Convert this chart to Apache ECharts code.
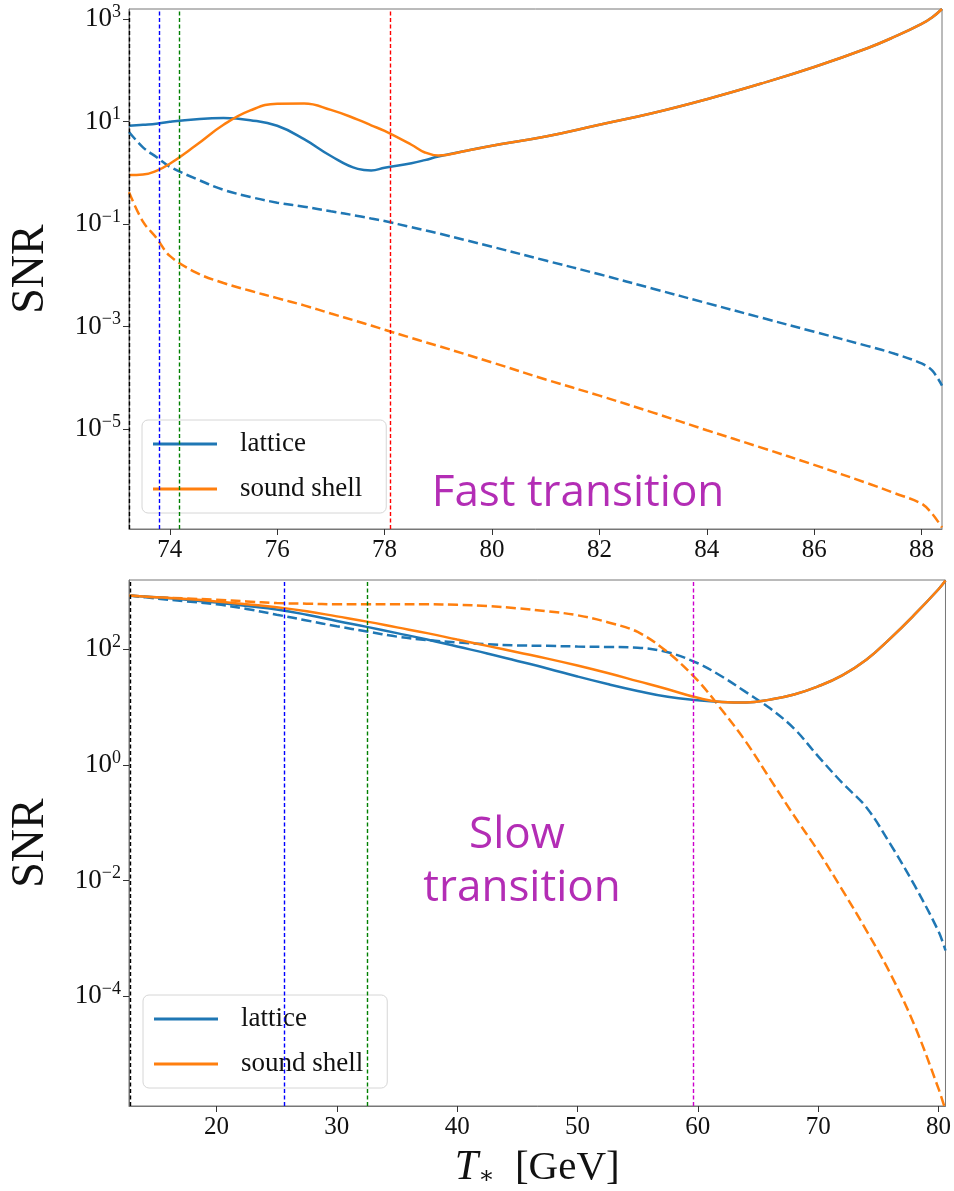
<!DOCTYPE html>
<html><head><meta charset="utf-8">
<script src="https://cdn.jsdelivr.net/npm/echarts@6/dist/echarts.min.js"></script>
<style>html,body{margin:0;padding:0;background:#fff}#c{width:954px;height:1191px}</style>
</head><body><div id="c"></div>
<script>
// ---------- Fast transition (top panel) ----------
const fastT = [73.24, 73.5, 73.75, 74, 74.5, 75, 75.5, 76, 76.5, 77, 77.5, 77.75, 78, 78.5, 78.75, 79, 79.5, 80, 81, 82, 83, 84, 85, 86, 87, 87.5, 88, 88.2, 88.38];
const fastLattice = [8.32, 8.71, 9.12, 10.0, 11.2, 11.75, 10.7, 8.32, 4.57, 2.14, 1.20, 1.12, 1.26, 1.55, 1.78, 2.09, 2.69, 3.39, 5.13, 8.71, 14.8, 27.5, 55.0, 117, 275, 457, 813, 1096, 1585];
const fastSoundShell = [0.912, 0.933, 1.10, 1.51, 3.55, 8.71, 16.6, 22.4, 22.6, 17.0, 11.0, 8.51, 6.61, 3.55, 2.51, 2.19, 2.69, 3.39, 5.13, 8.71, 14.8, 27.5, 55.0, 117, 275, 457, 813, 1096, 1585];
const fastLatticeDashed = [6.31, 3.16, 2.04, 1.32, 0.759, 0.468, 0.339, 0.263, 0.219, 0.178, 0.145, 0.129, 0.115, 0.0871, 0.0759, 0.0661, 0.049, 0.0363, 0.0195, 0.0105, 0.0055, 0.00288, 0.00151, 0.000794, 0.000417, 0.000295, 0.000191, 0.000138, 7.08e-5];
const fastSoundShellDashed = [0.42, 0.112, 0.054, 0.024, 0.0112, 0.0071, 0.0050, 0.0036, 0.0026, 0.0018, 0.00126, 0.00105, 0.00087, 0.0006, 0.0005, 0.00042, 0.00029, 0.0002, 9.3e-5, 4.5e-5, 2.1e-5, 9.5e-6, 4.4e-6, 2.0e-6, 8.7e-7, 5.6e-7, 3.5e-7, 2.2e-7, 1.2e-7];
const fastVLines = [73.25, 73.81, 74.18, 78.11];
const fastVColors = ['#000000', '#0000ff', '#008000', '#ff0000'];
const fastXTicks = [74, 76, 78, 80, 82, 84, 86, 88];
const fastYTicks = [-5, -3, -1, 1, 3];   // exponents of 10

// ---------- Slow transition (bottom panel) ----------
const slowT = [12.75, 15, 17.5, 20, 22.5, 25, 27.5, 30, 32.5, 35, 37.5, 40, 42.5, 45, 47.5, 50, 52.5, 55, 57.5, 60, 62, 64, 66, 68, 70, 72, 74, 76, 78, 80, 80.58];
const slowLattice = [851, 794, 724, 646, 562, 490, 398, 309, 245, 191, 148, 112, 85.1, 63.1, 46.8, 33.9, 25.1, 19.1, 15.1, 13.2, 12.3, 12.0, 13.5, 16.6, 22.9, 35.5, 66.1, 155, 398, 1096, 1549];
const slowSoundShell = [851, 794, 741, 676, 603, 537, 457, 372, 302, 240, 191, 148, 115, 89.1, 69.2, 52.5, 38.9, 28.2, 20.4, 14.5, 12.3, 12.0, 13.5, 16.6, 22.9, 35.5, 66.1, 155, 398, 1096, 1549];
const slowLatticeDashed = [851, 759, 676, 603, 501, 398, 316, 251, 204, 166, 145, 132, 123, 117, 115, 112, 110, 107, 89.1, 57.5, 33.9, 18.2, 9.55, 4.27, 1.41, 0.490, 0.186, 0.0427, 0.00832, 0.00132, 0.000617];
const slowSoundShellDashed = [851, 794, 759, 724, 676, 631, 617, 603, 603, 603, 603, 589, 562, 513, 457, 389, 295, 200, 89.1, 28.8, 8.91, 2.51, 0.575, 0.132, 0.0324, 0.00692, 0.00138, 0.000245, 3.16e-5, 2.51e-6, 1.07e-6];
const slowVLines = [12.8, 25.6, 32.5, 59.6];
const slowVColors = ['#000000', '#0000ff', '#008000', '#cc00cc'];
const slowXTicks = [20, 30, 40, 50, 60, 70, 80];
const slowYTicks = [-4, -2, 0, 2];

const BLUE = '#1f77b4', ORANGE = '#ff7f0e';
const SERIF = '"Liberation Serif", "DejaVu Serif", serif';

function pts(T, v) { return T.map((t, i) => [t, Math.log10(v[i])]); }
function supLabel(v) {
  const n = Math.round(v);
  const s = n < 0 ? '\u2212' + (-n) : String(n);
  return '{b|10}{s|' + s + '}';
}
const yRich = {
  b: { fontFamily: SERIF, fontSize: 27, color: '#111', lineHeight: 32, verticalAlign: 'middle' },
  s: { fontFamily: SERIF, fontSize: 18, color: '#111', lineHeight: 32, verticalAlign: 'top' }
};

function lineSeries(name, xi, T, v, color, dashed) {
  return {
    name: name, type: 'line', xAxisIndex: xi, yAxisIndex: xi,
    data: pts(T, v), showSymbol: false, symbol: 'none', smooth: dashed ? 0.35 : 0.45,
    lineStyle: { color: color, width: 2.5, type: dashed ? [10, 4.5] : 'solid' },
    itemStyle: { color: color }, silent: true, animation: false, z: dashed ? 3 : 4
  };
}
function vlineSeries(xi, xs, colors) {
  return {
    type: 'line', xAxisIndex: xi, yAxisIndex: xi, data: [], silent: true, animation: false,
    markLine: {
      symbol: 'none', silent: true, animation: false, label: { show: false },
      data: xs.map((x, i) => ({ xAxis: x, lineStyle: { color: colors[i], width: 1.4, type: [4, 2.5] } }))
    }, z: 2
  };
}
function xAxisCfg(gi, min, max, ticks, name) {
  const a = {
    type: 'value', gridIndex: gi, min: min, max: max,
    axisLine: { show: true, onZero: false, lineStyle: { color: '#777', width: 1 } },
    axisTick: { show: true, inside: false, length: 6, customValues: ticks, lineStyle: { color: '#333' } },
    axisLabel: { customValues: ticks, fontFamily: SERIF, fontSize: 25, color: '#111', margin: 9 },
    splitLine: { show: false }
  };
  if (name) {
    a.name = '{t|T}{st|\u2217}{g|  [GeV]}';
    a.nameLocation = 'middle';
    a.nameGap = 41;
    a.nameTextStyle = {
      rich: {
        t: { fontFamily: SERIF, fontStyle: 'italic', fontSize: 42, color: '#111' },
        st: { fontFamily: SERIF, fontSize: 24, color: '#111', verticalAlign: 'bottom', lineHeight: 40 },
        g: { fontFamily: SERIF, fontSize: 41, color: '#111' }
      }
    };
  }
  return a;
}
function yAxisCfg(gi, min, max, ticks) {
  return {
    type: 'value', gridIndex: gi, min: min, max: max,
    name: 'SNR', nameLocation: 'middle', nameGap: 75, nameRotate: 90,
    nameTextStyle: { fontFamily: SERIF, fontSize: 46, color: '#111' },
    axisLine: { show: true, onZero: false, lineStyle: { color: '#777', width: 1 } },
    axisTick: { show: true, inside: false, length: 6, customValues: ticks, lineStyle: { color: '#333' } },
    axisLabel: { customValues: ticks, formatter: supLabel, rich: yRich, margin: 8 },
    splitLine: { show: false }
  };
}
function legendCfg(top, gi) {
  return {
    show: true, orient: 'vertical', left: gi === 0 ? 142 : 143, top: top,
    data: gi === 0 ? ['lattice', 'sound shell'] : ['lattice ', 'sound shell '],
    icon: 'rect', itemWidth: 64, itemHeight: 3, itemGap: 15,
    padding: [9, 24, 9, 11],
    backgroundColor: 'rgba(255,255,255,0.85)', borderColor: '#d6d6d6', borderWidth: 1, borderRadius: 6,
    formatter: n => '{p|}' + n.trim(),
    textStyle: { fontFamily: SERIF, fontSize: 27, color: '#111', lineHeight: 30,
      rich: { p: { width: 18 } } },
    selectedMode: false
  };
}

const chart = echarts.init(document.getElementById('c'), null, { renderer: 'canvas' });
chart.setOption({
  animation: false,
  backgroundColor: '#ffffff',
  grid: [
    { left: 127, top: 9, width: 815, height: 520, show: true, borderColor: '#777', borderWidth: 1, containLabel: false },
    { left: 128, top: 580, width: 819, height: 526, show: true, borderColor: '#777', borderWidth: 1, containLabel: false }
  ],
  xAxis: [
    xAxisCfg(0, 73.24, 88.38, fastXTicks, false),
    xAxisCfg(1, 12.73, 80.58, slowXTicks, true)
  ],
  yAxis: [
    yAxisCfg(0, -6.95, 3.2, fastYTicks),
    yAxisCfg(1, -5.9, 3.2, slowYTicks)
  ],
  legend: [legendCfg(420, 0), legendCfg(995, 1)],
  graphic: [
    { type: 'text', x: 578, y: 493, silent: true,
      style: { text: 'Fast transition', font: '44px "Open Sans"', fill: '#b32db5', align: 'center', verticalAlign: 'middle' } },
    { type: 'text', x: 517, y: 835, silent: true,
      style: { text: 'Slow', font: '44px "Open Sans"', fill: '#b32db5', align: 'center', verticalAlign: 'middle' } },
    { type: 'text', x: 522, y: 888, silent: true,
      style: { text: 'transition', font: '44px "Open Sans"', fill: '#b32db5', align: 'center', verticalAlign: 'middle' } }
  ],
  series: [
    vlineSeries(0, fastVLines, fastVColors),
    lineSeries('lattice', 0, fastT, fastLattice, BLUE, false),
    lineSeries('sound shell', 0, fastT, fastSoundShell, ORANGE, false),
    lineSeries('lattice dashed', 0, fastT, fastLatticeDashed, BLUE, true),
    lineSeries('sound shell dashed', 0, fastT, fastSoundShellDashed, ORANGE, true),
    vlineSeries(1, slowVLines, slowVColors),
    lineSeries('lattice ', 1, slowT, slowLattice, BLUE, false),
    lineSeries('sound shell ', 1, slowT, slowSoundShell, ORANGE, false),
    lineSeries('lattice dashed ', 1, slowT, slowLatticeDashed, BLUE, true),
    lineSeries('sound shell dashed ', 1, slowT, slowSoundShellDashed, ORANGE, true)
  ]
});
</script>
</body></html>
